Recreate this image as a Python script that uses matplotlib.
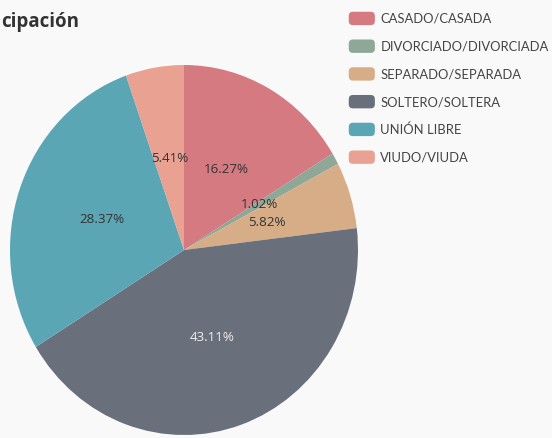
import matplotlib
matplotlib.use("Agg")
import matplotlib.pyplot as plt
from matplotlib.patches import FancyBboxPatch, Patch
from matplotlib.legend_handler import HandlerPatch

categories = ["CASADO/CASADA", "DIVORCIADO/DIVORCIADA", "SEPARADO/SEPARADA",
              "SOLTERO/SOLTERA", "UNIÓN LIBRE", "VIUDO/VIUDA"]
values = [16.27, 1.02, 5.82, 43.11, 28.37, 5.41]
colors = ["#d47a80", "#8ea797", "#d6ad87", "#6a707b", "#5ba6b5", "#e9a192"]
title = "cipación"

plt.rcParams['font.family'] = ['Open Sans', 'DejaVu Sans']

W, H = 552, 438
fig = plt.figure(figsize=(W / 100, H / 100), dpi=100)
fig.patch.set_facecolor("#f9f9f9")

cx, cy = 184, 250  # pixel center (from top)
rx, ry = 174, 185
ax = fig.add_axes([(cx - rx) / W, (H - cy - ry) / H, 2 * rx / W, 2 * ry / H])
ax.set_facecolor("none")
wedges, texts, autotexts = ax.pie(values, colors=colors, startangle=90, counterclock=False,
                                  autopct=lambda p: f"{p:.2f}%", pctdistance=0.5,
                                  wedgeprops=dict(linewidth=0))
for i, t in enumerate(autotexts):
    t.set_fontsize(9.6)
    t.set_color("#eeeeee" if i == 3 else "#333333")
ax.set_aspect('auto')
ax.set_xlim(-1, 1)
ax.set_ylim(-1, 1)
ax.axis('off')

fig.text(1 / W, 1 - 22 / H, title, ha='left', va='center', fontsize=13.5,
         fontweight='bold', color='#333333')


class RoundHandler(HandlerPatch):
    def create_artists(self, legend, orig_handle, xdescent, ydescent, width, height, fontsize, trans):
        p = FancyBboxPatch((-xdescent, -ydescent), width, height,
                           boxstyle="round,pad=0,rounding_size=3",
                           facecolor=orig_handle.get_facecolor(), edgecolor='none')
        p.set_transform(trans)
        return [p]


handles = [Patch(facecolor=c) for c in colors]
leg = fig.legend(handles, categories, loc='upper left',
                 bbox_to_anchor=(337 / W, 1 + 0 / H), frameon=False,
                 prop={'family': ['Lato', 'DejaVu Sans'], 'size': 9.4},
                 handlelength=2.0, handleheight=1.2,
                 handletextpad=0.42, labelspacing=1.1,
                 handler_map={Patch: RoundHandler()})
for t in leg.get_texts():
    t.set_color('#444444')

fig.savefig("out.png", dpi=100, facecolor=fig.get_facecolor())
